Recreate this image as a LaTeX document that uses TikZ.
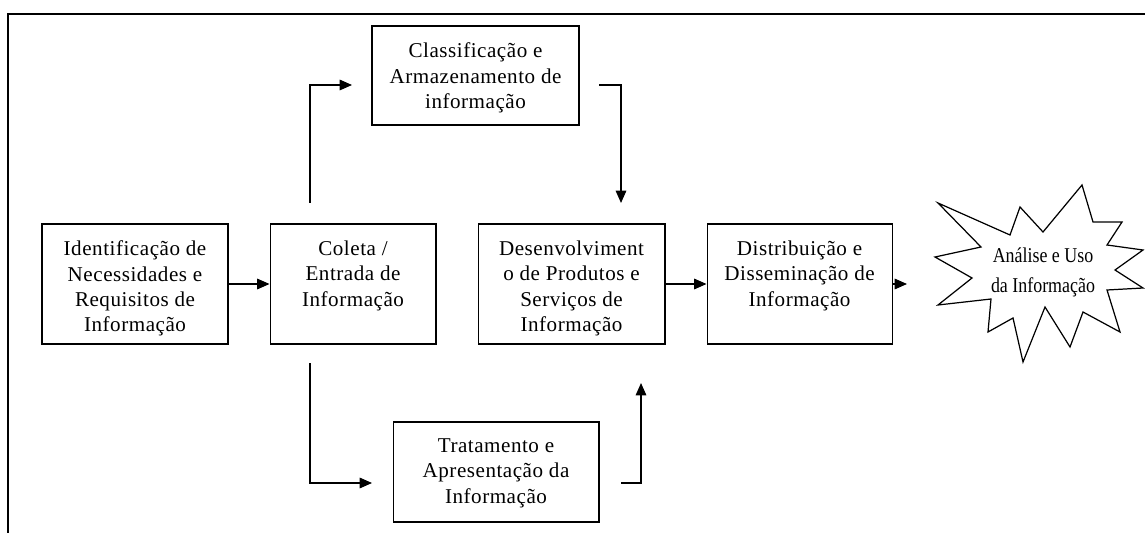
\documentclass[tikz,border=0pt]{standalone}
\usepackage{fontspec}
\setmainfont{Liberation Serif}
\newfontfamily\boxfont[LetterSpace=2.5]{Liberation Serif}
\usetikzlibrary{arrows.meta,positioning}

\tikzset{
  box/.style={draw, line width=0.6pt, inner sep=0pt, font=\boxfont\fontsize{12}{14.5}\selectfont},
  arr/.style={line width=0.7pt, -{Triangle[length=7pt,width=6pt]}},
  frameline/.style={line width=1.3pt, line join=miter},
  burst/.style={line width=0.7pt, line join=miter},
}
% text placed at the top of a box
\newcommand{\boxtext}[3]{\parbox[c][#2][t]{#1}{\vspace*{9.5pt}\centering #3}}

\begin{document}
\begin{tikzpicture}[x=0.02cm, y=-0.02cm]

\useasboundingbox (0,0) rectangle (1145,533);

% Frame (top and left edge only)
\draw[frameline] (8,533) |- (1145,14);

% Main row of boxes
\node[box] (iden) at (135,284) {\boxtext{3.72cm}{2.4cm}{Identificação de\\Necessidades e\\Requisitos de\\Informação}};
\node[box, right=0.82cm of iden] (coleta) {\boxtext{3.32cm}{2.4cm}{Coleta /\\Entrada de\\Informação}};
\node[box, right=0.82cm of coleta] (desenv) {\boxtext{3.74cm}{2.4cm}{Desenvolviment\\o de Produtos e\\Serviços de\\Informação}};
\node[box, right=0.82cm of desenv] (distrib) {\boxtext{3.7cm}{2.4cm}{Distribuição e\\Disseminação de\\Informação}};

% Upper and lower boxes
\node[box] (classif) at (475.5,75.5) {\boxtext{4.14cm}{1.98cm}{Classificação e\\Armazenamento de\\informação}};
\node[box] (trat) at (496,472) {\boxtext{4.12cm}{2cm}{Tratamento e\\Apresentação da\\Informação}};

% Starburst
\draw[burst] (938,203) -- (1010,235) -- (1020,207) -- (1043,232) -- (1082,185)
  -- (1093,222) -- (1122,222) -- (1107,245) -- (1143,250) -- (1115,270)
  -- (1143,288) -- (1107,290) -- (1120,332) -- (1083,312) -- (1070,347)
  -- (1045,307) -- (1023,362) -- (1013,318) -- (988,332) -- (991,299)
  -- (938,305) -- (972,278) -- (935,257) -- (981,247) -- cycle;
\node[font=\fontsize{12}{17}\selectfont, align=center] (analise) at (1043,272)
  {\scalebox{0.85}[1]{Análise e Uso}\\\scalebox{0.85}[1]{da Informação}};

% Free ends of the arrows
\coordinate (colUp) at (310,203);
\coordinate (claIn) at (352,85);
\coordinate (claOut) at (599,85);
\coordinate (desTop) at (621,203);
\coordinate (colDown) at (310,363);
\coordinate (traIn) at (372,483);
\coordinate (traOut) at (621,483);
\coordinate (desBot) at (641,383);
\coordinate (toAna) at (907,284);

% Arrows
\draw[arr] (iden) -- (coleta);
\draw[arr] (desenv) -- (distrib);
\draw[arr] (distrib.east) -- (toAna);
\draw[arr] (colUp) |- (claIn);
\draw[arr] (claOut) -| (desTop);
\draw[arr] (colDown) |- (traIn);
\draw[arr] (traOut) -| (desBot);

\end{tikzpicture}
\end{document}
